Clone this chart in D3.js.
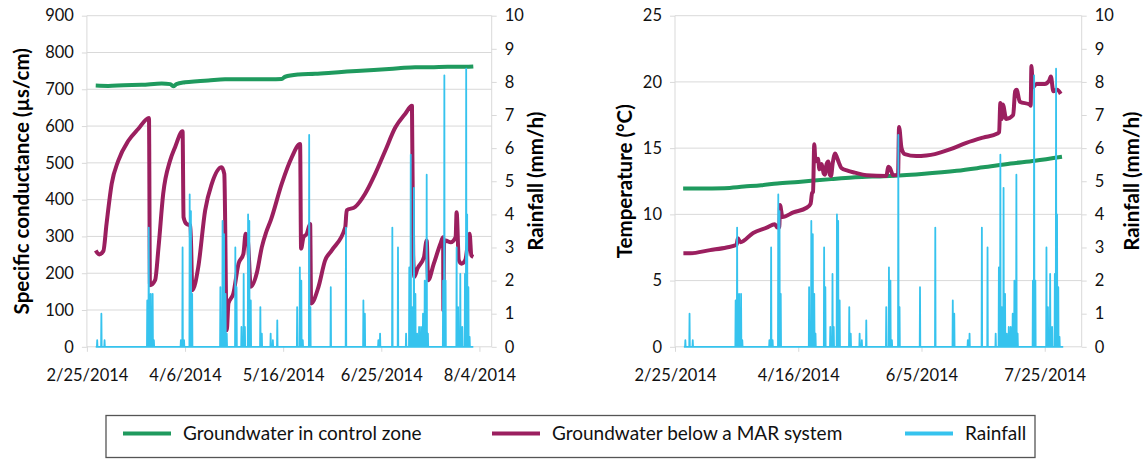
<!DOCTYPE html>
<html><head><meta charset="utf-8">
<script src="https://cdn.jsdelivr.net/npm/d3@7"></script>
<style>
body{margin:0;background:#fff}
svg{display:block}
text{font-family:Lato,"Open Sans",sans-serif}
</style>
</head><body>
<svg id="chart" width="1143" height="459"></svg>
<script>
// ---------------- DATA ----------------
const startDateLabel = "2/25/2014";
const endDateLabel = "8/9/2014";
const xTickLabelsLeft = ["2/25/2014","4/6/2014","5/16/2014","6/25/2014","8/4/2014"];
const xTickLabelsRight = ["2/25/2014","4/16/2014","6/5/2014","7/25/2014"];
const conductanceTicks = [0,100,200,300,400,500,600,700,800,900];
const temperatureTicks = [0,5,10,15,20,25];
const rainfallTicks = [0,1,2,3,4,5,6,7,8,9,10];
const seriesNames = ["Groundwater in control zone","Groundwater below a MAR system","Rainfall"];
const recordPeriod = [3.6, 157.5]; // days after 2/25/2014

// [days after 2/25/2014, µs/cm]
const controlConductance = [[3.6,710],[8.7,709],[15,711],[22.3,712],[30.5,716],[34,714],[35.2,708],[36.5,714],[40,719],[45,722],[49.5,724],[56.3,727],[65,727],[74.7,727],[79.4,728],[80.8,734],[86.2,740],[93,742],[99.8,745],[106,748],[113.4,751],[120,754],[127,757],[133.8,760],[140,760],[147,761],[154.2,761],[157.5,762]];
const marConductance = [[3.6,262],[5.0,251],[6.7,260],[8.0,334],[10.1,443],[12.8,506],[16.9,560],[20.9,592],[25.3,622],[25.7,167],[27.8,181],[29.2,271],[31.1,416],[33.9,506],[35.9,542],[39.0,586],[39.4,352],[40.6,334],[42.2,330],[43.0,154],[45.4,217],[48.2,371],[50.9,443],[54.9,488],[56.0,470],[57.0,45],[57.7,118],[59.7,145],[61.8,226],[63.8,253],[64.7,307],[65.6,290],[66.8,163],[69.2,199],[71.3,271],[73,310],[75,345],[79.4,443],[83.5,515],[86.9,551],[87.3,267],[88.3,298],[89.6,307],[91.0,334],[91.4,118],[94.4,163],[97.1,235],[99.8,262],[105.3,325],[105.9,371],[109.3,380],[113.4,416],[117.5,470],[121.6,533],[125.7,596],[129.7,633],[132.5,655],[133.0,250],[133.5,190],[134.7,212],[137.4,244],[138.5,289],[139.1,181],[141.4,226],[144.1,280],[145.2,298],[145.3,99],[145.6,280],[146.2,289],[148.3,284],[150.3,298],[150.7,366],[151.6,235],[152.7,226],[154.2,235],[156.0,307],[156.7,249],[157.5,244]];
// [days after 2/25/2014, °C]
const controlTemperature = [[3.3,11.95],[10,11.95],[20,11.98],[28,12.1],[35,12.2],[41.5,12.33],[50,12.45],[63.4,12.66],[72,12.78],[80,12.85],[92.5,12.95],[100,13.05],[114.3,13.29],[125,13.55],[136.2,13.84],[146,14.05],[157,14.35]];
const marTemperature = [[3.4,7.06],[6.1,7.06],[14.2,7.3],[20.9,7.5],[25.0,7.7],[25.5,8.2],[26.5,7.9],[31.7,8.6],[37.2,9.0],[40.5,9.25],[41.5,9.0],[42.3,9.0],[42.6,10.7],[43.6,9.8],[48.0,10.15],[53.4,10.5],[55.0,10.8],[55.6,11.6],[56.0,11.7],[56.5,15.3],[57.0,14.0],[58.0,14.2],[58.6,13.4],[59.5,13.8],[60.3,13.1],[60.8,13.0],[61.5,13.8],[62.2,14.0],[62.8,13.0],[63.3,12.9],[64.0,13.9],[65.0,14.6],[65.5,14.4],[66.5,13.9],[67.5,13.5],[70,13.3],[72.9,13.15],[77.7,12.95],[85.8,12.9],[86.5,13.6],[87.2,13.5],[88.5,12.95],[90.5,13.0],[90.9,16.6],[91.9,15.0],[93.2,14.55],[97.9,14.4],[102,14.45],[105.4,14.55],[111.5,14.9],[118.2,15.4],[125.0,15.8],[130.8,16.1],[131.5,16.2],[132.0,18.4],[132.6,17.2],[133.0,18.3],[134.4,17.2],[137.2,17.5],[138.0,19.3],[138.6,19.4],[139.9,18.5],[143.9,18.3],[144.3,18.2],[144.6,21.2],[145.2,19.6],[146.6,19.85],[150.0,19.85],[151.8,20.1],[152.5,20.4],[153.5,19.3],[155,19.4],[156.5,19.1]];
// [days after 2/25/2014, mm/h] rainfall peaks
const rainfall = [[4.2,0.2],[5.9,1.0],[7.2,0.2],[24.6,1.4],[25.2,3.6],[26.0,1.6],[26.8,1.6],[27.3,0.2],[38.3,0.2],[39.0,3.0],[39.6,0.2],[41.9,4.6],[42.4,4.1],[42.9,1.6],[54.4,1.8],[55.3,3.8],[55.9,3.4],[56.5,1.6],[57.0,0.4],[60.5,3.0],[61.0,1.8],[63.0,0.6],[63.9,2.2],[64.4,0.6],[65.7,4.0],[66.2,3.8],[66.8,1.4],[70.7,1.2],[71.3,0.4],[74.9,0.4],[75.8,0.2],[77.6,0.8],[85.7,1.2],[86.8,2.4],[87.4,2.0],[88.0,0.2],[90.6,6.4],[91.1,1.2],[99.4,1.8],[105.6,3.6],[112.7,1.4],[113.3,1.0],[118.8,0.2],[119.5,0.4],[124.5,3.6],[126.8,3.0],[130.1,0.4],[131.4,2.4],[132.0,5.8],[132.6,1.2],[133.3,4.8],[133.9,1.6],[134.6,0.4],[135.4,0.6],[136.2,0.6],[137.0,1.0],[137.7,2.0],[138.5,5.2],[139.0,0.4],[145.2,2.0],[145.7,8.2],[146.2,2.0],[150.7,3.0],[151.3,1.2],[152.2,2.2],[153.0,0.6],[154.1,2.2],[154.6,8.4],[155.0,4.0],[155.5,1.8],[156.0,0.3]];

// ---------------- STYLE / LAYOUT ----------------
const colors = {control:"#1f9a5e", mar:"#9b1f5f", rain:"#36c3ee", grid:"#d9d9d9", text:"#111"};
const parse = d3.utcParse("%-m/%-d/%Y");
const fmt = d3.utcFormat("%-m/%-d/%Y");
const t0 = parse(startDateLabel), t1 = parse(endDateLabel);
const toDate = d => new Date(t0.getTime() + d*864e5);
const plotTop = 15.7, plotBottom = 346.8;
const svg = d3.select("#chart");

function drawPanel(cfg){
  const g = svg.append("g");
  const x = d3.scaleUtc().domain([t0,t1]).range([cfg.x0,cfg.x1]);
  const y = d3.scaleLinear().domain(cfg.yDomain).range([plotBottom,plotTop]);
  const yr = d3.scaleLinear().domain([0,10]).range([plotBottom,plotTop]);
  g.append("g").selectAll("line").data(cfg.yTicks).join("line")
    .attr("x1",cfg.x0).attr("x2",cfg.x1).attr("y1",d=>y(d)).attr("y2",d=>y(d))
    .attr("stroke",colors.grid).attr("stroke-width",1);
  const ax = g.append("g").attr("transform",`translate(${cfg.x0},0)`)
    .call(d3.axisLeft(y).tickValues(cfg.yTicks).tickSize(5).tickPadding(8));
  const ar = g.append("g").attr("transform",`translate(${cfg.x1},0)`)
    .call(d3.axisRight(yr).tickValues(rainfallTicks).tickSize(5).tickPadding(8));
  const ab = g.append("g").attr("transform",`translate(0,${plotBottom})`)
    .call(d3.axisBottom(x).tickValues(cfg.xTicks.map(parse)).tickFormat(fmt).tickSize(5).tickPadding(17));
  [ax,ar,ab].forEach(a=>{
    a.select(".domain").attr("stroke",colors.grid);
    a.selectAll(".tick line").attr("stroke",colors.grid);
    a.selectAll("text").attr("fill",colors.text).style("font-size","16.5px").style("font-family","Lato");
  });
  ab.select(".domain").remove();
  ax.select(".domain").attr("d",`M0,${plotTop}V${plotBottom}`);
  ar.select(".domain").attr("d",`M0,${plotTop}V${plotBottom}`);

  const smooth = yy => d3.line().curve(d3.curveMonotoneX).x(d=>x(toDate(d[0]))).y(d=>yy(d[1]));
  const straight = yy => d3.line().x(d=>x(toDate(d[0]))).y(d=>yy(d[1]));
  g.append("path").datum(cfg.control).attr("d",smooth(y)).attr("fill","none")
    .attr("stroke",colors.control).attr("stroke-width",4).attr("stroke-linejoin","round");
  g.append("path").datum(cfg.mar).attr("d",smooth(y)).attr("fill","none")
    .attr("stroke",colors.mar).attr("stroke-width",4).attr("stroke-linejoin","round");
  const rainPts = [[recordPeriod[0],0]];
  rainfall.forEach(([d,v])=>{rainPts.push([d-0.12,0],[d,v],[d+0.12,0]);});
  rainPts.push([recordPeriod[1],0]);
  g.append("path").datum(rainPts).attr("d",straight(yr)).attr("fill","none")
    .attr("stroke",colors.rain).attr("stroke-width",1.8).attr("stroke-linejoin","round");

  g.append("text").attr("transform",`translate(${cfg.titleLeftX},${(plotTop+plotBottom)/2}) rotate(-90)`)
    .attr("text-anchor","middle").attr("dominant-baseline","central")
    .style("font-size","20.5px").style("font-weight","bold").attr("fill","#000").text(cfg.titleLeft);
  g.append("text").attr("transform",`translate(${cfg.titleRightX},${(plotTop+plotBottom)/2}) rotate(-90)`)
    .attr("text-anchor","middle").attr("dominant-baseline","central")
    .style("font-size","20.5px").style("font-weight","bold").attr("fill","#000").text("Rainfall (mm/h)");
}

drawPanel({x0:86.9,x1:491.7,yDomain:[0,900],yTicks:conductanceTicks,xTicks:xTickLabelsLeft,
  control:controlConductance,mar:marConductance,titleLeft:"Specific conductance (µs/cm)",titleLeftX:21,titleRightX:535});
drawPanel({x0:675,x1:1081.7,yDomain:[0,25],yTicks:temperatureTicks,xTicks:xTickLabelsRight,
  control:controlTemperature,mar:marTemperature,titleLeft:"Temperature (°C)",titleLeftX:624,titleRightX:1131});

const lg = svg.append("g");
lg.append("rect").attr("x",106).attr("y",415.5).attr("width",929).attr("height",42)
  .attr("fill","none").attr("stroke","#555").attr("stroke-width",1.3);
const legendX = [123,492,905];
const legendColors = [colors.control,colors.mar,colors.rain];
seriesNames.forEach((n,i)=>{
  lg.append("line").attr("x1",legendX[i]).attr("x2",legendX[i]+48).attr("y1",433.5).attr("y2",433.5)
    .attr("stroke",legendColors[i]).attr("stroke-width",4);
  lg.append("text").attr("x",legendX[i]+60).attr("y",440).style("font-size","19px")
    .attr("fill",colors.text).text(n);
});
</script>
</body></html>
